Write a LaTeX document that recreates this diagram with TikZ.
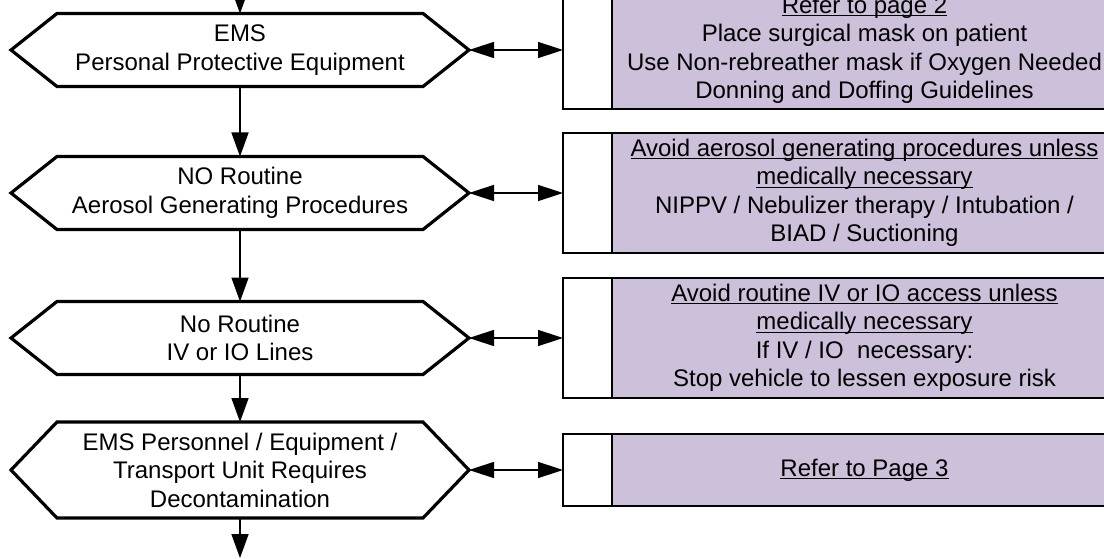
\documentclass[tikz,border=0pt]{standalone}
\usepackage{fontspec}
\setmainfont{Liberation Sans}
\usepackage{tikz}
\usetikzlibrary{arrows.meta,positioning}
\definecolor{notefill}{RGB}{204,192,218}
\newcommand{\undl}[1]{\setbox0\hbox{#1}\rlap{\rule[-3pt]{\wd0}{1.4pt}}\box0}

\begin{document}
\begin{tikzpicture}[
  x=1pt, y=-1pt,
  font=\fontsize{24}{28.5}\selectfont,
  stage/.style={align=center, inner sep=0pt, outer sep=0pt, minimum width=366pt,
    minimum height=73pt},
  hexline/.style={line width=3.2pt, line join=miter},
  tab/.style={draw, line width=2pt, fill=white, outer sep=0pt, minimum width=49pt},
  note/.style={draw, line width=2pt, fill=notefill, align=center, inner sep=0pt,
    outer sep=0pt, minimum width=505pt},
  link/.style={line width=1.5pt, -{Triangle[length=24pt,width=17pt]}},
  both/.style={line width=1.5pt,
    {Triangle[length=25pt,width=16pt]}-{Triangle[length=25pt,width=16pt]}},
]
\clip (0,0) rectangle (1104,559);

% steps down the left
\node[stage] (ppe) at (240,50) {EMS\\Personal Protective Equipment};
\node[stage] (agp) at (240,193) {NO Routine\\Aerosol Generating Procedures};
\node[stage] (ivio) at (240,338) {No Routine\\IV or IO Lines};
\node[stage, minimum height=96pt] (decon) at (240,470)
  {EMS Personnel / Equipment /\\Transport Unit Requires\\Decontamination};
\foreach \n in {ppe,agp,ivio,decon} {
  \draw[hexline] (\n.north west) -- (\n.north east) -- ([xshift=46pt]\n.east)
    -- (\n.south east) -- (\n.south west) -- ([xshift=-46pt]\n.west) -- cycle;
  \coordinate (\n-tip) at ([xshift=46pt]\n.east);
}

% notes on the right
\node[tab, minimum height=118pt] (ppe-tab) at (587.5,50) {};
\node[note, minimum height=118pt, right=0pt of ppe-tab] (ppe-note)
  {\undl{Refer to page 2}\\Place surgical mask on patient\\
   Use Non-rebreather mask if Oxygen Needed\\Donning and Doffing Guidelines};
\node[tab, minimum height=120pt] (agp-tab) at (587.5,193) {};
\node[note, minimum height=120pt, right=0pt of agp-tab] (agp-note)
  {\undl{Avoid aerosol generating procedures unless}\\\undl{medically necessary}\\
   NIPPV / Nebulizer therapy / Intubation /\\BIAD / Suctioning};
\node[tab, minimum height=120pt] (ivio-tab) at (587.5,338) {};
\node[note, minimum height=120pt, right=0pt of ivio-tab] (ivio-note)
  {\undl{Avoid routine IV or IO access unless}\\\undl{medically necessary}\\
   If IV / IO\ \ necessary:\\Stop vehicle to lessen exposure risk};
\node[tab, minimum height=72pt] (decon-tab) at (587.5,470) {};
\node[note, minimum height=72pt, right=0pt of decon-tab] (decon-note)
  {\undl{Refer to Page 3}};

\coordinate (top) at (240,-10);
\coordinate (bottom) at (240,558);
\draw[link] (top) -- (ppe.north);
\draw[link] (ppe.south) -- (agp.north);
\draw[link] (agp.south) -- (ivio.north);
\draw[link] (ivio.south) -- (decon.north);
\draw[link] (decon.south) -- (bottom);
\foreach \n in {ppe,agp,ivio,decon}
  \draw[both] (\n-tip) -- (\n-tab.west);
\end{tikzpicture}
\end{document}
